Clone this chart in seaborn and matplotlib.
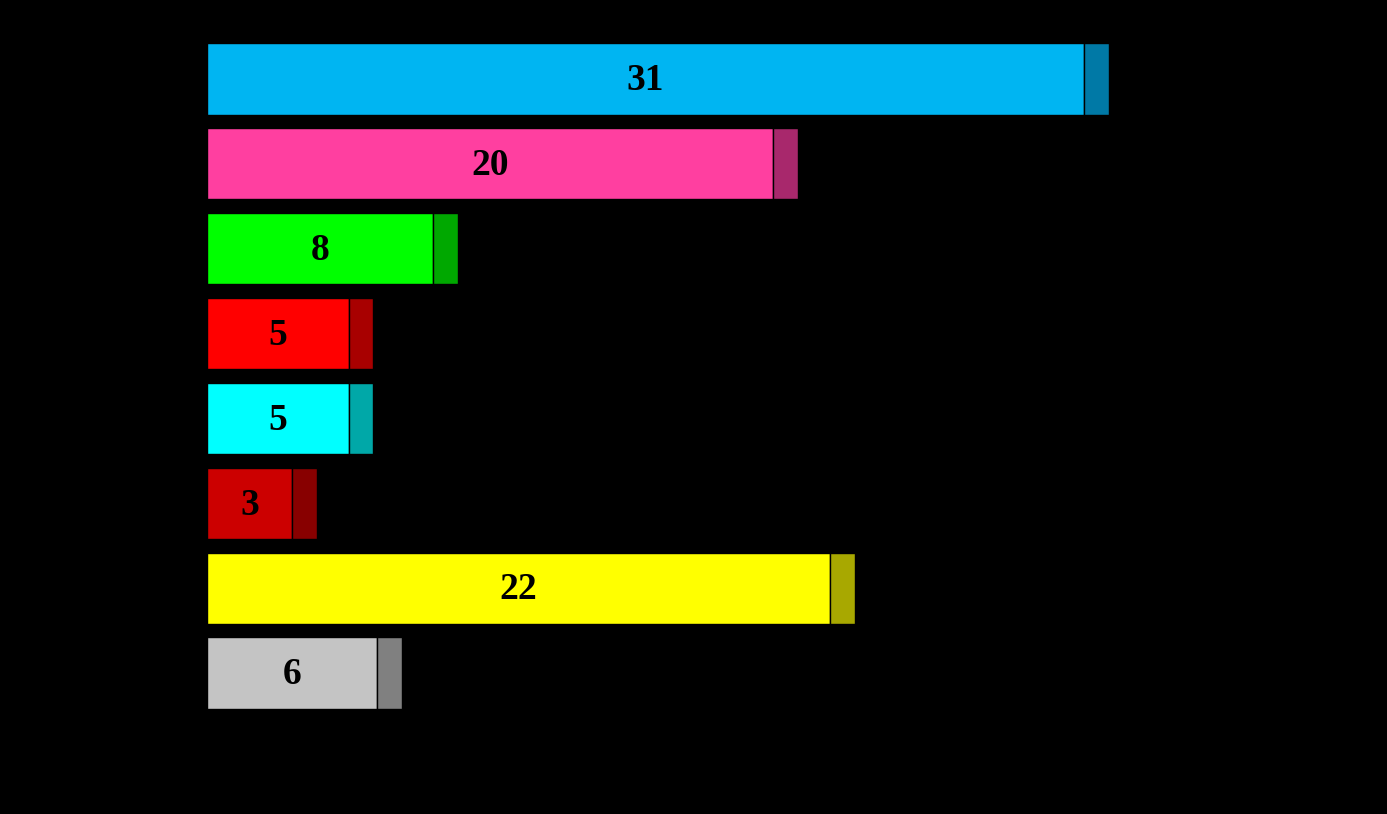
"""Horizontal bar chart with darker tail segments on a black background."""

import matplotlib.pyplot as plt
import pandas as pd
import seaborn as sns

# Data
categories = ["A", "B", "C", "D", "E", "F", "G", "H"]
values = [31, 20, 8, 5, 5, 3, 22, 6]
tail = [0.88, 0.88, 0.88, 0.88, 0.88, 0.88, 0.88, 0.88]
main_colors = ["#00B5F2", "#FF3FA0", "#00FF00", "#FF0000",
               "#00FFFF", "#CC0000", "#FFFF00", "#C4C4C4"]
tail_colors = ["#0079A6", "#A8286C", "#00A800", "#A80000",
               "#00A8A8", "#880000", "#A8A800", "#808080"]

df = pd.DataFrame({"category": categories, "value": values})

sns.set_style("white")
fig = plt.figure(figsize=(13.87, 8.14), dpi=100, facecolor="black")
ax = fig.add_axes([207 / 1387, 1 - 715.5 / 814, 1132 / 1387, 679 / 814])
ax.set_facecolor("black")

sns.barplot(data=df, x="value", y="category", hue="category",
            palette=main_colors, legend=False, width=0.84, saturation=1,
            edgecolor="black", linewidth=1, ax=ax)
ax.barh(range(len(categories)), tail, left=values, height=0.84,
        color=tail_colors, edgecolor="black", linewidth=1)

for i, v in enumerate(values):
    ax.text(v / 2, i + 0.02, str(v), ha="center", va="center",
            fontsize=27, fontweight="bold", family="Liberation Serif",
            color="black")

ax.set_xlim(0, 40)
ax.set_ylim(7.5, -0.5)
ax.set_xticks([])
ax.set_yticks([])
ax.set_xlabel("")
ax.set_ylabel("")
for s in ax.spines.values():
    s.set_visible(False)

plt.savefig("out.png", dpi=100, facecolor="black")
plt.close()
